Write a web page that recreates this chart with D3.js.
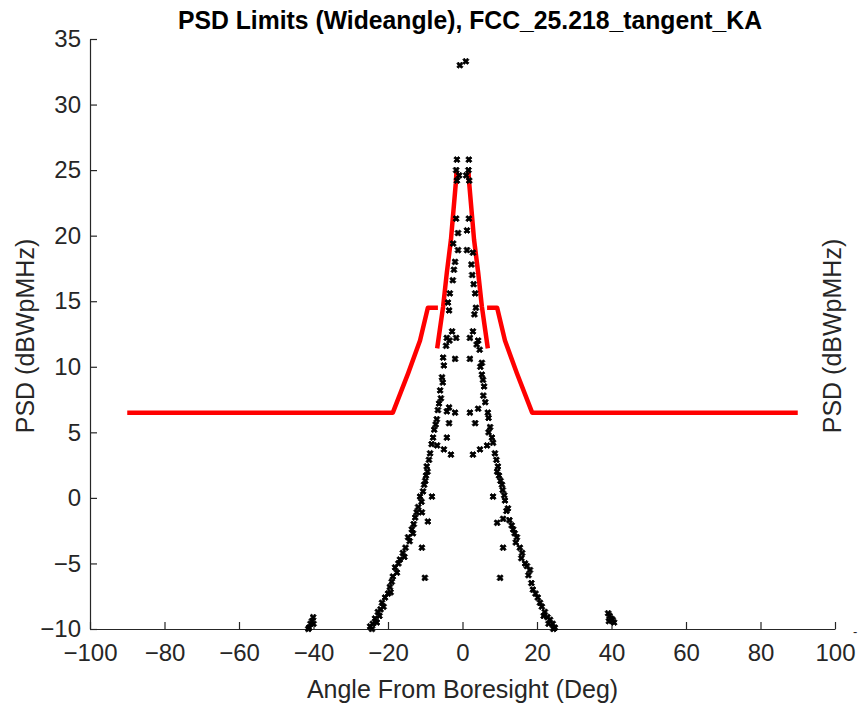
<!DOCTYPE html>
<html>
<head>
<meta charset="utf-8">
<script src="https://cdn.jsdelivr.net/npm/d3@7"></script>
<style>
  body { margin: 0; background: #fff; }
  text { font-family: Arial, "Liberation Sans", Helvetica, sans-serif; fill: #262626; }
  .axis path, .axis line { stroke: #262626; stroke-width: 1.2; }
</style>
</head>
<body>
<div id="chart"></div>
<script>
// PSD mask (red), degrees / dBWpMHz
const maskOuterLeft = [[-90, 6.5], [-18.7, 6.5], [-14.6, 9.5], [-11.4, 12.0], [-9.3, 14.5], [-6.6, 14.5]];
const maskInnerLeft = [[-6.8, 11.4], [-5.2, 14.6], [-4.2, 17.2], [-3.1, 19.7], [-1.8, 24.0], [-1.6, 24.9]];
const maskInnerRight = [[1.6, 24.9], [1.8, 24.0], [3.1, 19.7], [4.2, 17.2], [5.2, 14.6], [6.8, 11.4]];
const maskOuterRight = [[6.6, 14.5], [9.3, 14.5], [11.4, 12.0], [14.6, 9.5], [18.7, 6.5], [90, 6.5]];

// measured PSD points (black)
const peakPts = [[-0.7, 33.0], [0.9, 33.3]];
const leftBranch = [
  [-1.5, 25.8], [-1.7, 25.0], [-0.9, 24.6], [-1.5, 24.2], [-1.7, 21.3], [-1.2, 20.2],
  [-2.5, 19.4], [-1.2, 18.9], [-2.0, 18.0], [-2.3, 17.4], [-2.6, 16.6], [-3.4, 15.6], [-3.9, 14.9], [-3.6, 14.3],
  [-2.8, 12.7], [-4.2, 12.2], [-1.7, 12.2], [-3.5, 12.0], [-4.4, 11.6],
  [-5.2, 10.7], [-2.0, 10.6], [-5.0, 10.1], [-5.5, 9.2], [-5.3, 8.8], [-6.0, 8.2], [-5.8, 7.6], [-6.3, 7.2],
  [-6.6, 6.7], [-4.2, 6.6], [-2.0, 6.5], [-3.6, 6.9], [-6.9, 6.0], [-3.6, 5.7], [-7.2, 5.6], [-7.6, 5.2],
  [-7.9, 4.6], [-4.2, 4.6], [-6.8, 4.0], [-8.3, 4.1], [-5.0, 3.7], [-3.1, 3.3], [-8.7, 3.4], [-9.0, 2.9],
  [-9.6, 2.4], [-9.4, 2.0], [-9.8, 1.7], [-10.0, 1.3], [-10.3, 1.0], [-10.6, 0.5], [-11.4, 0.1], [-8.2, 0.1],
  [-11.0, -0.3], [-11.9, -0.7], [-10.9, -1.1], [-12.3, -1.1], [-12.7, -1.5], [-9.3, -1.8], [-13.1, -2.0],
  [-13.6, -2.4], [-13.3, -2.7], [-14.6, -3.0], [-14.2, -3.3], [-10.9, -3.8], [-15.3, -3.8], [-16.0, -4.2],
  [-15.6, -4.5], [-16.8, -4.7], [-17.2, -5.0], [-18.1, -5.3], [-17.6, -5.7], [-10.1, -6.1], [-18.7, -6.0],
  [-19.0, -6.4], [-19.5, -6.8], [-20.0, -7.3], [-19.3, -7.2], [-20.8, -7.6], [-21.6, -8.0], [-21.2, -8.3],
  [-22.0, -8.5], [-22.7, -8.7], [-22.3, -9.0], [-23.5, -9.2], [-23.0, -9.5], [-24.1, -9.6], [-24.8, -9.8], [-24.3, -10.0]
];
const rightBranch = [
  [1.7, 25.8], [1.6, 25.0], [1.0, 24.6], [1.8, 24.2], [1.7, 21.3], [1.2, 20.4],
  [2.8, 18.7], [1.2, 18.9], [2.4, 17.8], [2.6, 17.0], [3.0, 16.3], [3.4, 15.6], [3.6, 14.5], [3.2, 14.0],
  [2.8, 12.7], [2.0, 12.2], [4.2, 12.0], [3.8, 11.7], [4.6, 11.3],
  [5.2, 10.3], [2.0, 10.6], [4.8, 10.0], [5.2, 9.4], [5.5, 9.0], [5.8, 8.5], [5.6, 7.8], [6.1, 7.3],
  [6.8, 6.5], [4.2, 6.8], [2.0, 6.5], [3.4, 5.7], [7.0, 6.1], [7.4, 5.4], [7.0, 5.0], [7.9, 4.6],
  [6.6, 4.0], [4.7, 3.7], [2.8, 3.3], [8.2, 4.2], [8.7, 3.4], [9.1, 2.9], [9.5, 2.4], [9.3, 2.0],
  [9.8, 1.7], [10.2, 1.3], [10.6, 1.0], [10.8, 0.6], [8.2, 0.1], [11.4, -0.2], [11.2, 0.2], [12.2, -0.8],
  [11.8, -1.0], [10.9, -1.6], [9.3, -1.9], [12.6, -1.7], [13.2, -2.1], [13.6, -2.4], [14.0, -2.7], [14.6, -3.0],
  [14.3, -3.4], [10.9, -3.8], [15.4, -3.8], [16.0, -4.2], [15.8, -4.6], [16.8, -5.0], [17.3, -5.2], [18.1, -5.5],
  [17.7, -5.9], [10.1, -6.1], [18.9, -7.0], [18.5, -6.5], [19.6, -7.3], [20.2, -7.6], [20.8, -8.0], [21.3, -8.3],
  [22.1, -8.7], [21.8, -9.0], [22.8, -9.1], [23.5, -9.3], [23.1, -9.6], [24.2, -9.6], [24.8, -9.9], [24.4, -10.0]
];
const sideLobes = [
  [-40.1, -9.1], [-40.4, -9.4], [-40.8, -9.6], [-41.2, -9.9], [-40.0, -9.6], [-41.4, -10.0],
  [39.1, -8.8], [39.5, -9.0], [39.9, -9.2], [40.3, -9.3], [40.7, -9.5], [39.3, -9.4]
];

const xTicks = [-100, -80, -60, -40, -20, 0, 20, 40, 60, 80, 100];
const yTicks = [-10, -5, 0, 5, 10, 15, 20, 25, 30, 35];

const titleText = 'PSD Limits (Wideangle), FCC_25.218_tangent_KA';
const xLabel = 'Angle From Boresight (Deg)';
const yLabel = 'PSD (dBWpMHz)';

const W = 859, H = 707;
const margin = { top: 39, right: 24, bottom: 78, left: 90 };
const width = W - margin.left - margin.right;
const height = H - margin.top - margin.bottom;

const svg = d3.select('#chart').append('svg')
  .attr('width', W)
  .attr('height', H);

const g = svg.append('g')
  .attr('transform', 'translate(' + margin.left + ',' + margin.top + ')');

const x = d3.scaleLinear().domain([-100, 100]).range([0, width]);
const y = d3.scaleLinear().domain([-10, 35]).range([height, 0]);

// axes, ticks pointing inward like matlab
g.append('g')
  .attr('class', 'axis')
  .attr('transform', 'translate(0,' + height + ')')
  .call(d3.axisBottom(x).tickValues(xTicks).tickSizeInner(-7).tickSizeOuter(0).tickPadding(15));

g.append('g')
  .attr('class', 'axis')
  .call(d3.axisLeft(y).tickValues(yTicks).tickSizeInner(-7).tickSizeOuter(0).tickPadding(9));

g.selectAll('.axis text')
  .style('font-size', '24px')
  .style('fill', '#262626');

// red mask, drawn as thick line through the mask points
const line = d3.line().x(d => x(d[0])).y(d => y(d[1]));
[maskOuterLeft, maskInnerLeft, maskInnerRight, maskOuterRight].forEach(seg => {
  g.append('path')
    .datum(seg)
    .attr('d', line)
    .attr('fill', 'none')
    .attr('stroke', '#ff0000')
    .attr('stroke-width', 4.5)
    .attr('stroke-linejoin', 'round');
});

// black measured points, small fat blobs
const sym = d3.symbol().type(d3.symbolCross).size(24);
const pts = peakPts.concat(leftBranch, rightBranch, sideLobes);
g.append('g')
  .selectAll('path')
  .data(pts)
  .join('path')
  .attr('transform', d => 'translate(' + x(d[0]) + ',' + y(d[1]) + ') rotate(45)')
  .attr('d', sym)
  .attr('fill', '#000')
  .attr('stroke', '#000')
  .attr('stroke-width', 0.8);

// title + labels
svg.append('text')
  .attr('x', 470)
  .attr('y', 29)
  .attr('text-anchor', 'middle')
  .attr('textLength', 584)
  .attr('lengthAdjust', 'spacingAndGlyphs')
  .style('font-size', '25px')
  .style('font-weight', 'bold')
  .style('fill', '#000')
  .text(titleText);

svg.append('text')
  .attr('x', margin.left + x(0))
  .attr('y', 698)
  .attr('text-anchor', 'middle')
  .style('font-size', '25px')
  .text(xLabel);

svg.append('text')
  .attr('transform', 'translate(34,' + 336 + ') rotate(-90)')
  .attr('text-anchor', 'middle')
  .style('font-size', '25px')
  .text(yLabel);

svg.append('text')
  .attr('transform', 'translate(841,' + 336 + ') rotate(-90)')
  .attr('text-anchor', 'middle')
  .style('font-size', '25px')
  .text(yLabel);

// stray tick mark at right of the x axis
svg.append('text')
  .attr('x', 853)
  .attr('y', 636)
  .attr('text-anchor', 'start')
  .style('font-size', '13px')
  .text('-');
</script>
</body>
</html>
